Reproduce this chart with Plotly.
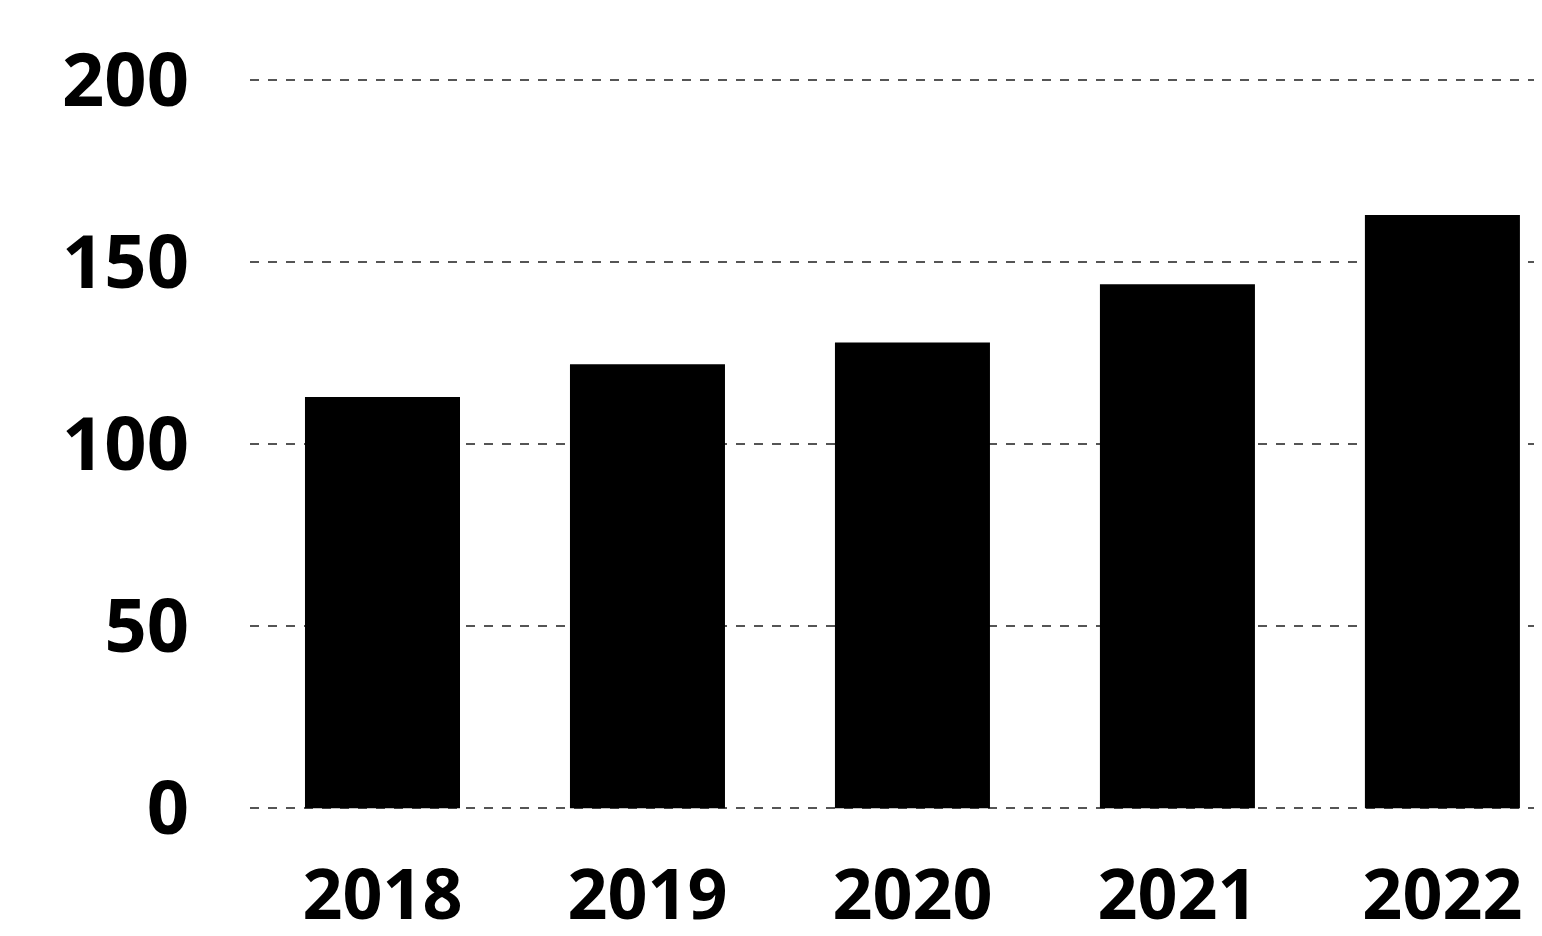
import plotly.graph_objects as go

# Datos
years = ["2018", "2019", "2020", "2021", "2022"]
values = [113, 122, 128, 144, 163]
y_ticks = [0, 50, 100, 150, 200]

fig = go.Figure()
fig.add_trace(go.Bar(x=years, y=values, marker=dict(color="#000000", line_width=0)))

fig.update_layout(
    width=1542,
    height=936,
    paper_bgcolor="white",
    plot_bgcolor="white",
    showlegend=False,
    bargap=0.415,
    margin=dict(l=242, r=0, t=65, b=132),
    font=dict(family="Open Sans", color="#000000"),
)
fig.update_xaxes(
    type="category",
    range=[-0.5, 4.406],
    showgrid=False,
    showline=False,
    ticks="",
    ticklabelstandoff=36,
    tickfont=dict(size=70, weight=700),
)
fig.update_yaxes(
    range=[-1, 202],
    tickvals=y_ticks,
    showgrid=True,
    gridcolor="#555555",
    gridwidth=1.5,
    griddash="dash",
    zeroline=False,
    showline=False,
    ticks="",
    ticklabelstandoff=60,
    tickfont=dict(size=74, weight=700),
)

fig.write_html("out.html")
